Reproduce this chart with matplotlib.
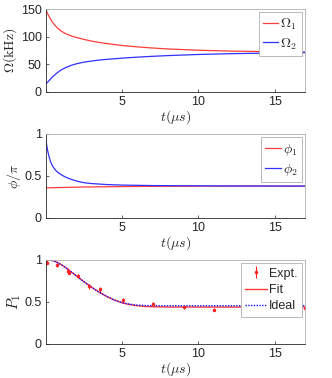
import matplotlib
matplotlib.use("Agg")
import matplotlib.pyplot as plt
import numpy as np

plt.rcParams['font.family'] = ['Liberation Sans', 'DejaVu Sans']
plt.rcParams['mathtext.fontset'] = 'cm'

# Panel (a): Rabi frequencies
t_omega = [0, 0.1, 0.25, 0.4, 0.6, 0.8, 1, 1.25, 1.5, 1.75, 2, 2.5, 3, 3.5, 4, 5, 6, 7, 8, 10, 12, 15, 17]
omega1 = [148, 142, 134, 127, 120, 114.5, 110, 106, 103, 100.5, 98.5, 95, 92, 89.5, 87.5, 84, 81.5, 79.5, 77.8, 75.5, 74, 72.8, 72.2]
omega2 = [15, 17.5, 22, 26.5, 31.5, 36, 40, 43.5, 46.5, 49, 51, 54, 56, 57.8, 59, 61.2, 63, 64.5, 65.8, 67.8, 69.2, 70.6, 71.3]

# Panel (b): phases
t_phi = [0, 0.05, 0.1, 0.2, 0.3, 0.4, 0.5, 0.65, 0.8, 1, 1.25, 1.5, 2, 2.5, 3, 4, 5, 7, 10, 13, 17]
phi1 = [0.36, 0.36, 0.36, 0.36, 0.36, 0.361, 0.361, 0.362, 0.362, 0.363, 0.364, 0.365, 0.367, 0.369, 0.37, 0.372, 0.374, 0.377, 0.379, 0.38, 0.38]
phi2 = [0.92, 0.86, 0.81, 0.73, 0.67, 0.63, 0.6, 0.565, 0.54, 0.515, 0.49, 0.47, 0.44, 0.42, 0.41, 0.398, 0.392, 0.386, 0.383, 0.381, 0.38]

# Panel (c): population
t_expt = [0, 0.05, 0.74, 1.47, 1.5, 2.12, 2.84, 3.54, 5.03, 7.04, 9.03, 11.0, 14.0, 17.0]
p_expt = [0.99, 0.97, 0.94, 0.87, 0.85, 0.81, 0.69, 0.65, 0.52, 0.48, 0.44, 0.41, 0.48, 0.43]
p_err = [0.02, 0.02, 0.02, 0.03, 0.02, 0.02, 0.03, 0.03, 0.03, 0.02, 0.02, 0.02, 0.02, 0.02]
t_fit = [0, 0.25, 0.5, 0.75, 1, 1.25, 1.5, 1.75, 2, 2.5, 3, 3.5, 4, 4.5, 5, 5.5, 6, 6.5, 7, 8, 10, 13, 17]
p_fit = [1.0, 1.0, 0.99, 0.97, 0.945, 0.915, 0.88, 0.845, 0.81, 0.74, 0.675, 0.615, 0.565, 0.522, 0.49, 0.468, 0.455, 0.447, 0.443, 0.44, 0.44, 0.44, 0.44]
p_ideal = [1.0, 1.0, 0.99, 0.97, 0.945, 0.915, 0.88, 0.845, 0.81, 0.74, 0.675, 0.615, 0.565, 0.522, 0.492, 0.474, 0.463, 0.458, 0.456, 0.455, 0.455, 0.455, 0.455]

fig = plt.figure(figsize=(3.32, 3.78), dpi=100)
W = 332; H = 378
left = 46 / W; width = (305 - 46) / W
rects = [(9, 92), (134, 218), (260, 344)]
axes = [fig.add_axes([left, 1 - b / H, width, (b - t) / H]) for t, b in rects]

grey = '#262626'
for ax in axes:
    ax.set_xlim(0, 17)
    ax.set_xticks([5, 10, 15])
    for s in ax.spines.values():
        s.set_color('#b0b0b0')
        s.set_linewidth(0.6)
    ax.spines['left'].set_color('#262626')
    ax.spines['bottom'].set_color('#262626')
    ax.tick_params(direction='in', length=2.5, width=0.5, labelsize=9, colors=grey, pad=3)
    ax.set_xlabel(r'$t(\mu s)$', fontsize=10, color=grey, labelpad=0)

ax = axes[0]
ax.plot(t_omega, omega1, color='#ff3b3b', lw=0.9, label=r'$\Omega_1$')
ax.plot(t_omega, omega2, color='#3030ff', lw=0.9, label=r'$\Omega_2$')
ax.set_ylim(0, 150)
ax.set_yticks([0, 50, 100, 150])
ax.set_ylabel(r'$\Omega(\mathrm{kHz})$', fontsize=10, color=grey, labelpad=1)

ax = axes[1]
ax.plot(t_phi, phi1, color='#ff3b3b', lw=0.9, label=r'$\phi_1$')
ax.plot(t_phi, phi2, color='#3030ff', lw=0.9, label=r'$\phi_2$')
ax.set_ylim(0, 1)
ax.set_yticks([0, 0.5, 1])
ax.set_yticklabels(['0', '0.5', '1'])
ax.set_ylabel(r'$\phi/\pi$', fontsize=10, color=grey, labelpad=1)

ax = axes[2]
h_expt = ax.errorbar(t_expt, p_expt, yerr=p_err, fmt='.', color='#ff2020', ms=3, elinewidth=0.8, capsize=0, label='Expt.')
h_fit, = ax.plot(t_fit, p_fit, color='#ff3b3b', lw=1.0, label='Fit')
h_ideal, = ax.plot(t_fit, p_ideal, color='#1010ff', lw=1.0, ls=(0, (1, 1)), label='Ideal')
ax.set_ylim(0, 1)
ax.set_yticks([0, 0.5, 1])
ax.set_yticklabels(['0', '0.5', '1'])
ax.set_ylabel(r'$P_1$', fontsize=11, color=grey, labelpad=1)

for i, ax in enumerate(axes):
    if i == 2:
        leg = ax.legend([h_expt, h_fit, h_ideal], ['Expt.', 'Fit', 'Ideal'], loc='upper right',
                        fontsize=9, handlelength=1.7, handletextpad=0.2, borderpad=0.35,
                        labelspacing=0.35, borderaxespad=0.25, fancybox=False, framealpha=1)
    else:
        leg = ax.legend(loc='upper right', fontsize=10, handlelength=1.1, handletextpad=0.15,
                        borderpad=0.3, labelspacing=0.3, borderaxespad=0.25, fancybox=False,
                        framealpha=1)
    leg.get_frame().set_edgecolor('#b0b0b0')
    leg.get_frame().set_linewidth(0.6)
    for txt in leg.get_texts():
        txt.set_color(grey)

fig.savefig('out.png', dpi=100)
